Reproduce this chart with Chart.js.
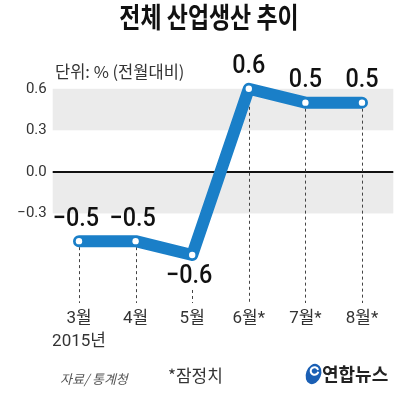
<!DOCTYPE html>
<html><head><meta charset="utf-8">
<script src="https://cdn.jsdelivr.net/npm/chart.js@4"></script>
<style>html,body{margin:0;padding:0;background:#fff;}#wrap{width:417px;height:396px;position:relative;}</style>
</head><body><div id="wrap"><canvas id="c" width="417" height="396"></canvas></div>
<script>
const categories = [['3월','2015년'], '4월', '5월', '6월*', '7월*', '8월*'];
const values = [-0.5, -0.5, -0.6, 0.6, 0.5, 0.5];
const yTicks = [-0.3, 0.0, 0.3, 0.6];
const bands = [[0.3, 0.6], [-0.3, 0.0]];
const labelBelow = [false, false, true, false, false, false];
const titleText = '전체 산업생산 추이';
const unitText = '단위: % (전월대비)';
const sourceText = '자료/ 통계청';
const noteText = '*잠정치';
const logoText = '연합뉴스';

const fmt = v => (v < 0 ? '\u2212' : '') + Math.abs(v).toFixed(1);

const deco = {
  id: 'deco',
  beforeDatasetsDraw(chart) {
    const {ctx, chartArea: a, scales: {x, y}} = chart;
    ctx.save();
    ctx.fillStyle = '#ebebeb';
    bands.forEach(([lo, hi]) => {
      const t = y.getPixelForValue(hi), b = y.getPixelForValue(lo);
      ctx.fillRect(a.left + 2, t, a.right - a.left + 1, b - t);
    });
    ctx.strokeStyle = '#111'; ctx.lineWidth = 2;
    const z = y.getPixelForValue(0);
    ctx.beginPath(); ctx.moveTo(a.left + 2, z); ctx.lineTo(a.right + 3, z); ctx.stroke();
    ctx.strokeStyle = '#444'; ctx.lineWidth = 1; ctx.setLineDash([3, 3]);
    values.forEach((v, i) => {
      const px = Math.round(x.getPixelForValue(i)) + 0.5;
      const py = y.getPixelForValue(v) + (labelBelow[i] ? 35 : 0);
      ctx.beginPath(); ctx.moveTo(px, py); ctx.lineTo(px, a.bottom + 3); ctx.stroke();
    });
    ctx.restore();
  },
  afterDraw(chart) {
    const {ctx, scales: {x, y}} = chart;
    ctx.save();
    // data labels
    ctx.fillStyle = '#111';
    ctx.textAlign = 'center'; ctx.textBaseline = 'middle';
    values.forEach((v, i) => {
      const px = x.getPixelForValue(i), py = y.getPixelForValue(v);
      ctx.save();
      ctx.translate(px - (v < 0 ? 3 : 0), py + (labelBelow[i] ? 22 : -22));
      ctx.scale(0.9, 1);
      ctx.font = '500 26px Roboto, "Liberation Sans", sans-serif';
      ctx.fillText(fmt(v), 0, 0);
      ctx.restore();
    });
    // title
    ctx.save();
    ctx.translate(209, 17);
    ctx.scale(0.82, 1);
    ctx.font = 'bold 28px "Noto Sans CJK KR", sans-serif';
    ctx.fillStyle = '#111';
    ctx.fillText(titleText, 0, 0);
    ctx.restore();
    // unit
    ctx.textAlign = 'left';
    ctx.font = '16.5px "Noto Sans CJK KR", sans-serif';
    ctx.fillStyle = '#333';
    ctx.fillText(unitText, 55, 72);
    // footer
    ctx.font = 'italic 13px "Noto Sans CJK KR", sans-serif';
    ctx.fillStyle = '#555';
    ctx.fillText(sourceText, 60, 379);
    ctx.font = '17px "Noto Sans CJK KR", sans-serif';
    ctx.fillStyle = '#333';
    ctx.fillText(noteText, 168, 376);
    // logo
    ctx.fillStyle = '#1a5fb4';
    ctx.beginPath(); ctx.ellipse(313.5, 374, 7.5, 10.5, 0.35, 0, Math.PI * 2); ctx.fill();
    ctx.strokeStyle = '#fff'; ctx.lineWidth = 2;
    ctx.beginPath(); ctx.arc(314.5, 371, 3.8, 0.2, Math.PI * 1.9); ctx.stroke();
    ctx.font = 'bold 18px "Noto Sans CJK KR", sans-serif';
    ctx.fillStyle = '#222';
    ctx.fillText(logoText, 322, 374);
    ctx.restore();
  }
};

new Chart(document.getElementById('c'), {
  type: 'line',
  data: {
    labels: categories,
    datasets: [{
      data: values,
      borderColor: '#1a7fc8',
      borderWidth: 12,
      borderJoinStyle: 'round',
      borderCapStyle: 'round',
      tension: 0,
      pointRadius: 3.2,
      pointBackgroundColor: '#fff',
      pointBorderWidth: 0,
      fill: false
    }]
  },
  options: {
    responsive: false,
    animation: false,
    layout: {padding: {top: 68, right: 26.7, left: 0, bottom: 0}},
    plugins: {legend: {display: false}, tooltip: {enabled: false}, title: {display: false}},
    scales: {
      x: {
        offset: true,
        grid: {display: false, drawTicks: false},
        border: {display: false},
        ticks: {padding: 7, color: '#333', font: {family: 'Roboto, "Noto Sans CJK KR", sans-serif', size: 17, lineHeight: 1.35}, maxRotation: 0, autoSkip: false},
        afterFit(s) { s.height = 96; }
      },
      y: {
        min: -0.925, max: 0.75,
        afterBuildTicks(s) { s.ticks = yTicks.map(v => ({value: v})); },
        grid: {display: false, drawTicks: false},
        border: {display: false},
        ticks: {padding: 4, color: '#333', font: {family: 'Roboto, sans-serif', size: 15}, callback: v => fmt(v)},
        afterFit(s) { s.width = 50.7; }
      }
    }
  },
  plugins: [deco]
});
</script></body></html>
